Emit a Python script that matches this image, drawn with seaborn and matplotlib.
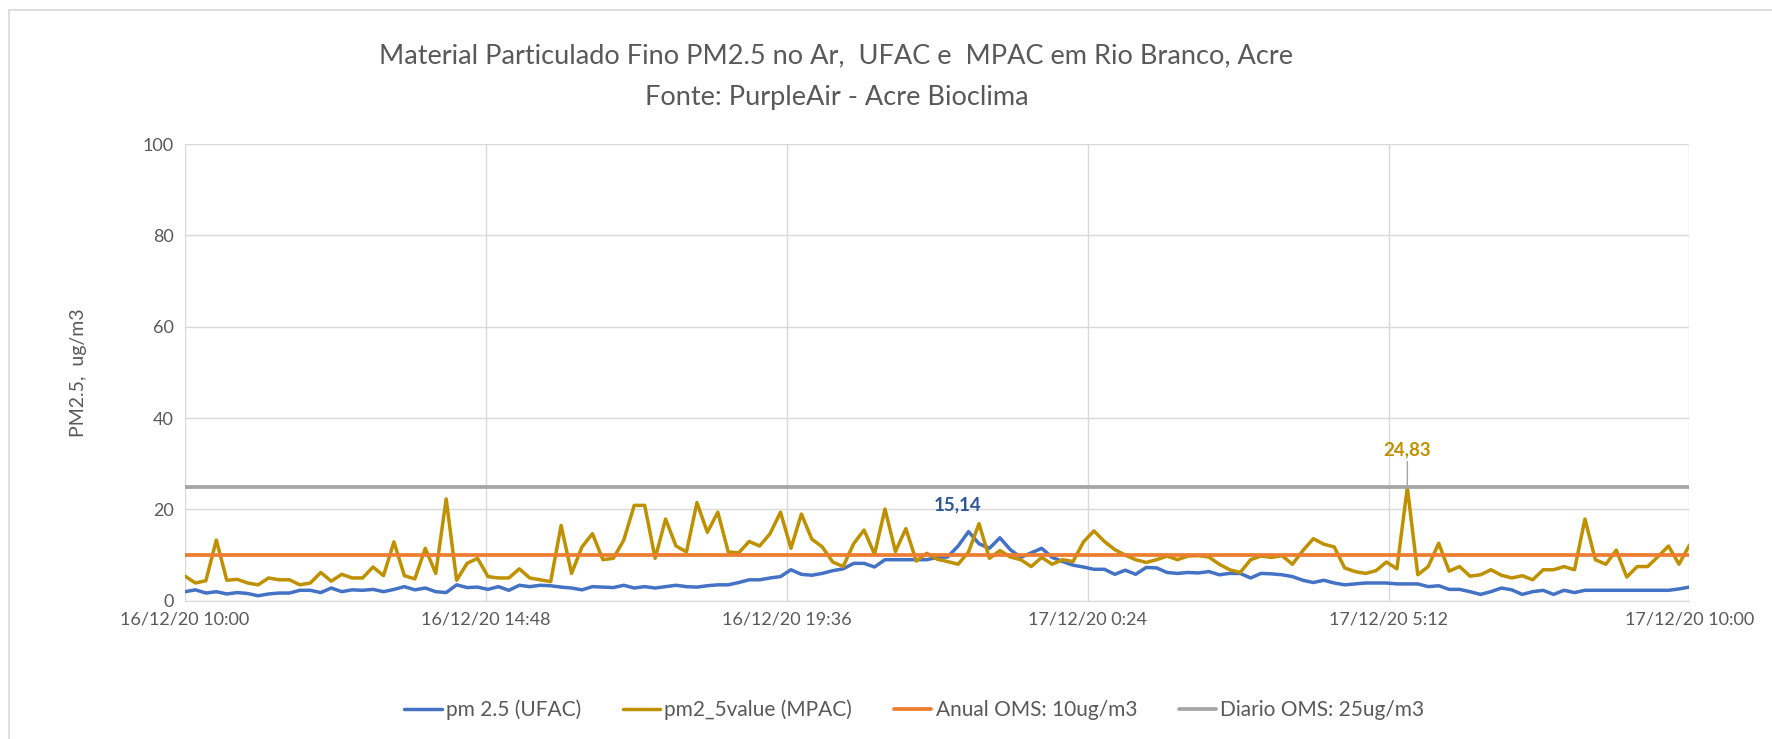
import numpy as np
import pandas as pd
import matplotlib
matplotlib.use('Agg')
import matplotlib.pyplot as plt
from matplotlib.patches import Rectangle
import seaborn as sns

# PM2.5 readings, every 10 minutes from 16/12/20 10:00 to 17/12/20 10:00
ufac = [2.0, 2.4, 1.7, 2.0, 1.5, 1.8, 1.6, 1.1, 1.5, 1.7, 1.7, 2.3, 2.3, 1.8, 2.8, 2.0, 2.4, 2.3, 2.5, 2.0, 2.5, 3.1, 2.4, 2.8,
        2.0, 1.8, 3.5, 2.9, 3.0, 2.5, 3.1, 2.3, 3.4, 3.1, 3.4, 3.3, 3.0, 2.8, 2.4, 3.1, 3.0, 2.9, 3.4, 2.8, 3.1, 2.8, 3.1, 3.4,
        3.1, 3.0, 3.3, 3.5, 3.5, 4.0, 4.6, 4.6, 5.0, 5.3, 6.8, 5.8, 5.6, 6.0, 6.6, 7.0, 8.2, 8.2, 7.4, 9.0, 9.0, 9.0, 9.0, 9.0,
        9.5, 9.6, 12.0, 15.14, 12.5, 11.5, 13.8, 11.2, 9.5, 10.5, 11.5, 9.5, 8.6, 7.8, 7.4, 6.9, 6.9, 5.8, 6.7, 5.8, 7.3, 7.2, 6.2, 6.0,
        6.2, 6.1, 6.4, 5.7, 6.0, 6.0, 5.0, 6.0, 5.9, 5.7, 5.3, 4.5, 4.0, 4.5, 3.9, 3.5, 3.7, 3.9, 3.9, 3.9, 3.7, 3.7, 3.7,
        3.1, 3.3, 2.5, 2.5, 2.0, 1.4, 2.0, 2.8, 2.4, 1.4, 2.0, 2.3, 1.4, 2.3, 1.8, 2.3, 2.3, 2.3, 2.3, 2.3, 2.3, 2.3, 2.3, 2.3, 2.6, 3.0]
mpac = [5.4, 3.9, 4.4, 13.3, 4.5, 4.7, 3.9, 3.5, 5.0, 4.6, 4.6, 3.5, 3.9, 6.2, 4.3, 5.8, 5.0, 5.0, 7.4, 5.5, 12.9, 5.5, 4.8, 11.5,
        6.0, 22.3, 4.5, 8.2, 9.3, 5.3, 5.0, 5.0, 7.0, 5.0, 4.6, 4.2, 16.5, 6.0, 11.8, 14.7, 9.0, 9.3, 13.3, 20.9, 20.9, 9.3, 17.9, 12.0,
        10.7, 21.5, 15.0, 19.4, 10.7, 10.5, 13.0, 12.0, 14.7, 19.4, 11.5, 19.0, 13.5, 11.8, 8.5, 7.5, 12.5, 15.5, 10.2, 20.1, 10.8, 15.8, 8.7, 10.4,
        9.1, 8.6, 8.0, 10.7, 16.9, 9.3, 11.0, 9.6, 9.0, 7.5, 9.5, 8.0, 9.0, 8.6, 12.9, 15.3, 13.0, 11.2, 10.0, 9.0, 8.4, 9.0, 9.8, 9.0,
        9.8, 9.9, 9.6, 8.0, 6.8, 6.2, 9.0, 9.8, 9.5, 9.9, 8.0, 11.0, 13.6, 12.4, 11.8, 7.2, 6.4, 6.0, 6.6, 8.5, 7.0, 24.83, 5.7,
        7.5, 12.6, 6.5, 7.5, 5.4, 5.7, 6.8, 5.6, 5.0, 5.5, 4.6, 6.8, 6.8, 7.5, 6.8, 17.9, 9.0, 8.0, 11.1, 5.2, 7.5, 7.5, 9.7, 12.0, 8.0, 12.2]
anual_oms = 10
diario_oms = 25

series_names = ['pm 2.5 (UFAC)', 'pm2_5value (MPAC)', 'Anual OMS: 10ug/m3', 'Diario OMS: 25ug/m3']
colors = ['#4472C4', '#BF9000', '#ED7D31', '#A5A5A5']

times = pd.date_range('2020-12-16 10:00', periods=len(ufac), freq='10min')
df = pd.DataFrame({'time': times, 'ufac': ufac, 'mpac': mpac})
df['anual'] = anual_oms
df['diario'] = diario_oms

sns.set_style('white')
plt.rcParams['font.family'] = ['Lato', 'DejaVu Sans']

fig = plt.figure(figsize=(17.72, 7.39), dpi=100)
ax = fig.add_axes([0.1044, 0.187, 0.849, 0.618])

sns.lineplot(data=df, x='time', y='ufac', ax=ax, color=colors[0], lw=2.5, label=series_names[0])
sns.lineplot(data=df, x='time', y='mpac', ax=ax, color=colors[1], lw=2.5, label=series_names[1])
sns.lineplot(data=df, x='time', y='anual', ax=ax, color=colors[2], lw=2.7, label=series_names[2])
sns.lineplot(data=df, x='time', y='diario', ax=ax, color=colors[3], lw=2.7, label=series_names[3])

ax.set_ylim(0, 100)
ax.set_yticks(np.arange(0, 101, 20))
ax.set_xlim(times[0], times[-1])
xt = pd.date_range(times[0], times[-1], freq='288min')
ax.set_xticks(xt)
ax.set_xticklabels([f"{t:%d/%m/%y} {t.hour}:{t:%M}" for t in xt])
ax.grid(True, color='#D9D9D9', lw=1)
for s in ['top', 'right', 'left']:
    ax.spines[s].set_visible(False)
ax.spines['bottom'].set_color('#D9D9D9')
ax.tick_params(axis='both', labelsize=13, colors='#595959', length=0, pad=8)
ax.set_xlabel('')
ax.set_ylabel('PM2.5,  ug/m3', fontsize=14, color='#595959', labelpad=40)

# data labels for the maxima
i_u = int(np.argmax(ufac))
ax.annotate(f"{ufac[i_u]:.2f}".replace('.', ','), xy=(times[i_u], ufac[i_u]), xytext=(-8, 13),
            textcoords='offset points', ha='center', va='bottom', fontsize=13.5, fontweight='bold', color='#2F5597')
i_m = int(np.argmax(mpac))
ax.annotate(f"{mpac[i_m]:.2f}".replace('.', ','), xy=(times[i_m], mpac[i_m]), xytext=(0, 21),
            textcoords='offset points', ha='center', va='bottom', fontsize=13.5, fontweight='bold', color='#BF9000',
            arrowprops=dict(arrowstyle='-', color='#A5A5A5', lw=1, shrinkA=0, shrinkB=0))

fig.text(0.472, 0.925, 'Material Particulado Fino PM2.5 no Ar,  UFAC e  MPAC em Rio Branco, Acre',
         ha='center', va='center', fontsize=19.5, color='#595959')
fig.text(0.472, 0.868, 'Fonte: PurpleAir - Acre Bioclima', ha='center', va='center', fontsize=19.5, color='#595959')

ax.get_legend().remove()
handles, labels = ax.get_legend_handles_labels()
fig.legend(handles, labels, loc='center', bbox_to_anchor=(0.516, 0.039), ncol=4, frameon=False,
           fontsize=15, labelcolor='#595959', handlelength=1.8, handletextpad=0.2, columnspacing=2.0)

fig.patches.append(Rectangle((0.005, -0.1), 1.2, 1.086, transform=fig.transFigure,
                             fill=False, edgecolor='#D9D9D9', lw=1.2))

fig.savefig('out.png', dpi=100)
